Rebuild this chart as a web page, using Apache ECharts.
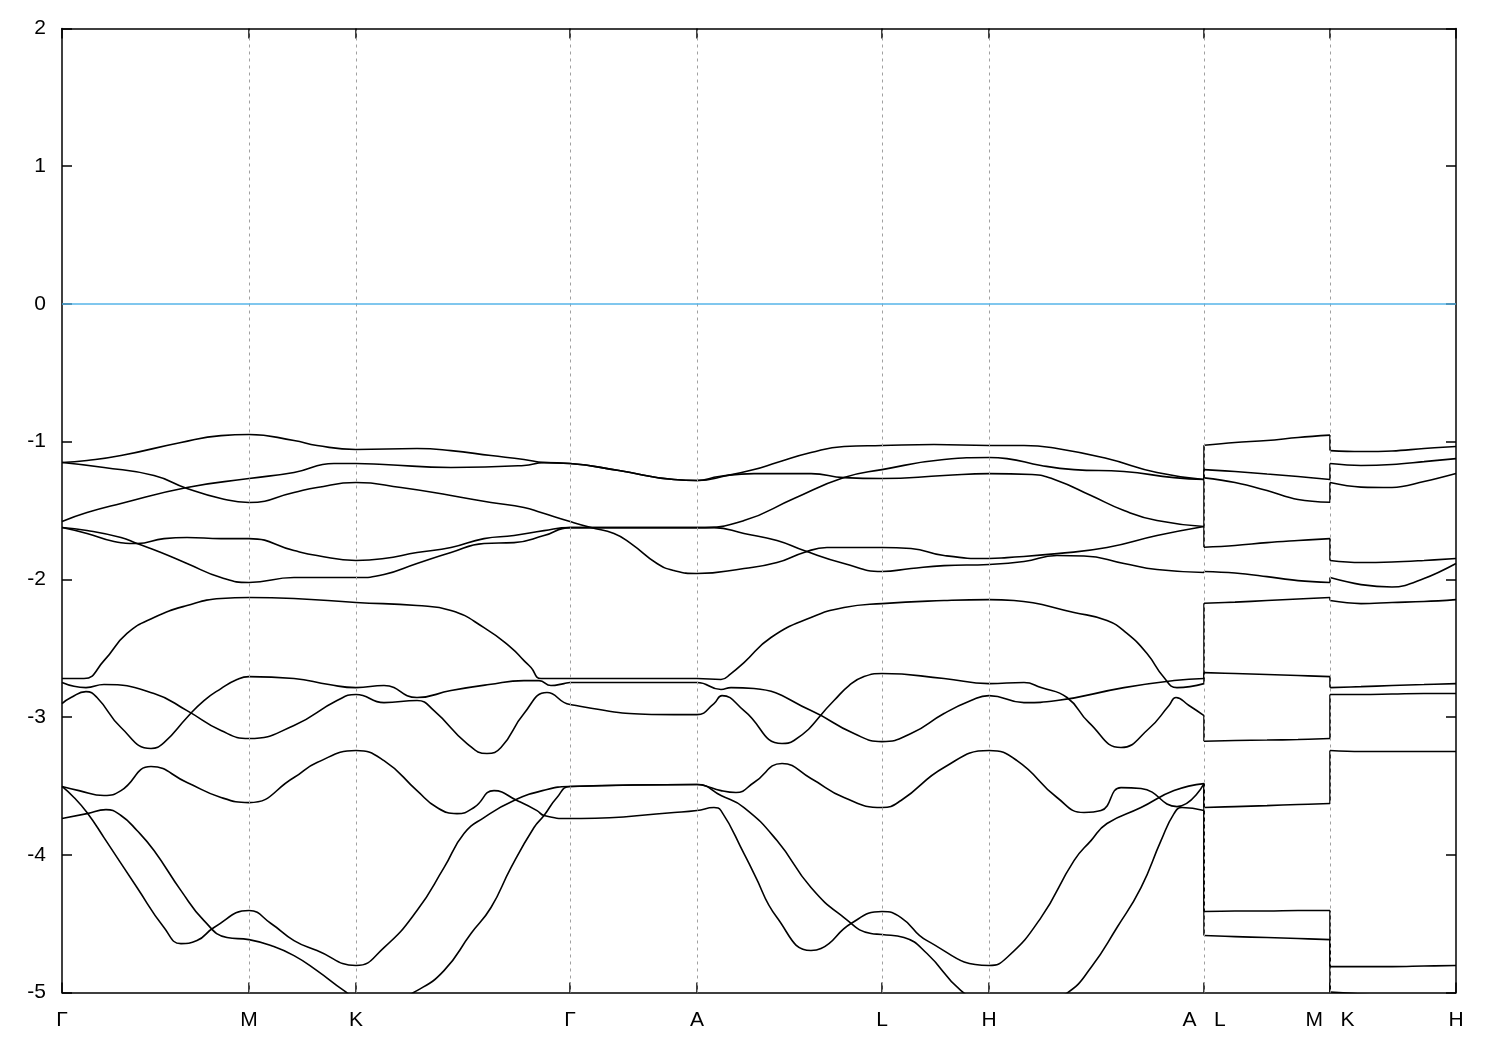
<!DOCTYPE html>
<html><head><meta charset="utf-8">
<script src="https://cdn.jsdelivr.net/npm/echarts@6/dist/echarts.min.js"></script>
<style>html,body{margin:0;padding:0;background:#fff}#c{width:1500px;height:1050px}</style>
</head><body><div id="c"></div>
<script>
// High-symmetry points along the k-path
const kTicks = [0, 1.87, 2.94, 5.08, 6.35, 8.20, 9.27, 11.42, 12.68, 13.94];
const kLabels = ['Γ', 'M', 'K', 'Γ', 'A', 'L', 'H', 'A   L', 'M   K', 'H'];
const yMin = -5, yMax = 2, yStep = 1;
const fermiLevel = 0;

// Bands along Γ-M-K-Γ-A-L-H-A  ([k, E(eV)])
const upper1 = [[0,-1.152],[0.25,-1.137],[0.59,-1.101],[1.19,-1.006],[1.59,-0.956],[1.87,-0.948],[2.32,-0.992],[2.55,-1.028],[2.94,-1.057],[3.55,-1.050],[3.89,-1.065],[4.29,-1.101],[4.62,-1.130],[4.82,-1.152],[5.08,-1.159],[5.57,-1.210],[6.12,-1.275],[6.35,-1.282],[6.65,-1.246],[6.92,-1.203],[7.15,-1.152],[7.49,-1.079],[7.82,-1.035],[8.20,-1.028],[8.72,-1.021],[9.27,-1.028],[9.62,-1.028],[9.95,-1.050],[10.45,-1.123],[10.95,-1.224],[11.42,-1.275]];
const upper2 = [[0,-1.580],[0.25,-1.515],[0.59,-1.449],[1.25,-1.333],[1.87,-1.268],[2.32,-1.224],[2.72,-1.159],[2.94,-1.159],[3.22,-1.166],[3.89,-1.188],[4.62,-1.173],[4.82,-1.152],[5.08,-1.159],[5.57,-1.210],[6.12,-1.275],[6.35,-1.282],[6.57,-1.253],[6.92,-1.232],[7.49,-1.232],[7.82,-1.261],[8.20,-1.268],[8.82,-1.246],[9.27,-1.232],[9.70,-1.239],[9.95,-1.282],[10.29,-1.391],[10.62,-1.500],[10.95,-1.573],[11.42,-1.616]];
const upper3 = [[0,-1.152],[0.42,-1.188],[0.92,-1.246],[1.25,-1.340],[1.59,-1.413],[1.87,-1.442],[2.32,-1.369],[2.55,-1.333],[2.94,-1.297],[3.39,-1.333],[3.89,-1.391],[4.29,-1.442],[4.62,-1.478],[4.79,-1.515],[5.08,-1.580],[5.29,-1.624],[5.52,-1.667],[5.69,-1.740],[5.95,-1.885],[6.12,-1.936],[6.35,-1.958],[6.82,-1.921],[7.15,-1.878],[7.42,-1.805],[7.65,-1.769],[8.20,-1.769],[8.49,-1.776],[8.82,-1.827],[9.27,-1.849],[9.45,-1.842],[9.95,-1.813],[10.45,-1.769],[10.95,-1.682],[11.42,-1.616]];
const upper4 = [[0,-1.624],[0.25,-1.667],[0.52,-1.725],[0.75,-1.740],[1.02,-1.704],[1.25,-1.696],[1.59,-1.704],[1.87,-1.704],[2.32,-1.791],[2.55,-1.827],[2.94,-1.863],[3.22,-1.849],[3.55,-1.805],[3.89,-1.769],[4.22,-1.704],[4.52,-1.682],[4.82,-1.646],[5.08,-1.624],[6.35,-1.624],[6.52,-1.624],[6.82,-1.667],[7.15,-1.718],[7.42,-1.791],[7.82,-1.885],[8.20,-1.943],[8.49,-1.921],[8.82,-1.900],[9.27,-1.892],[9.62,-1.870],[9.95,-1.827],[10.22,-1.830],[10.62,-1.885],[10.95,-1.929],[11.42,-1.950]];
const upper5 = [[0,-1.624],[0.25,-1.645],[0.59,-1.696],[0.75,-1.740],[0.99,-1.805],[1.25,-1.885],[1.59,-1.987],[1.87,-2.023],[2.32,-1.987],[2.94,-1.987],[3.22,-1.965],[3.55,-1.885],[3.89,-1.805],[4.22,-1.740],[4.52,-1.733],[4.82,-1.682],[5.08,-1.624],[6.35,-1.624],[6.82,-1.573],[7.32,-1.413],[7.82,-1.261],[8.20,-1.203],[8.82,-1.130],[9.27,-1.115],[9.45,-1.123],[9.79,-1.173],[10.12,-1.203],[10.62,-1.217],[11.12,-1.261],[11.42,-1.275]];
const middle = [[0,-2.720],[0.22,-2.720],[0.42,-2.590],[0.65,-2.393],[0.92,-2.277],[1.25,-2.190],[1.59,-2.139],[1.87,-2.132],[2.32,-2.139],[2.94,-2.168],[3.55,-2.190],[3.89,-2.226],[4.22,-2.350],[4.49,-2.495],[4.62,-2.590],[4.69,-2.640],[4.79,-2.720],[5.08,-2.720],[6.35,-2.720],[6.59,-2.727],[6.69,-2.684],[6.82,-2.604],[7.09,-2.422],[7.49,-2.277],[7.82,-2.205],[8.20,-2.176],[8.82,-2.154],[9.27,-2.147],[9.52,-2.154],[10.12,-2.241],[10.45,-2.299],[10.65,-2.393],[10.85,-2.539],[11.02,-2.713],[11.15,-2.786],[11.42,-2.757]];
const lowerA = [[0,-2.749],[0.24,-2.786],[0.42,-2.764],[0.92,-2.829],[1.25,-2.953],[1.59,-3.098],[1.87,-3.156],[2.32,-3.061],[2.75,-2.880],[2.94,-2.836],[3.22,-2.895],[3.55,-2.880],[3.72,-2.953],[4.05,-3.192],[4.25,-3.265],[4.39,-3.221],[4.62,-2.974],[4.85,-2.822],[5.08,-2.909],[6.12,-2.982],[6.35,-2.982],[6.52,-2.902],[6.60,-2.844],[6.82,-2.953],[7.20,-3.192],[7.32,-3.170],[7.72,-2.880],[7.87,-2.771],[8.02,-2.706],[8.20,-2.684],[8.82,-2.720],[9.27,-2.757],[9.62,-2.749],[9.79,-2.786],[10.05,-2.858],[10.27,-3.040],[10.59,-3.221],[10.87,-3.083],[11.07,-2.916],[11.14,-2.858],[11.27,-2.916],[11.42,-2.989]];
const lowerB = [[0,-2.902],[0.09,-2.858],[0.24,-2.815],[0.35,-2.858],[0.59,-3.076],[0.89,-3.228],[1.02,-3.185],[1.25,-3.003],[1.42,-2.880],[1.59,-2.793],[1.75,-2.727],[1.87,-2.706],[2.32,-2.720],[2.67,-2.764],[2.94,-2.786],[3.22,-2.771],[3.55,-2.858],[3.89,-2.807],[4.27,-2.764],[4.62,-2.735],[4.77,-2.735],[4.89,-2.771],[5.02,-2.757],[5.08,-2.749],[6.35,-2.749],[6.59,-2.800],[6.69,-2.786],[6.92,-2.793],[7.49,-2.953],[7.92,-3.120],[8.20,-3.178],[8.49,-3.120],[8.82,-2.974],[9.09,-2.880],[9.27,-2.844],[9.62,-2.895],[9.95,-2.880],[10.62,-2.786],[11.12,-2.735],[11.42,-2.720]];
const deep1 = [[0,-3.504],[0.17,-3.534],[0.42,-3.570],[0.59,-3.534],[0.89,-3.359],[1.25,-3.475],[1.59,-3.584],[1.87,-3.621],[2.32,-3.439],[2.55,-3.330],[2.94,-3.243],[3.22,-3.316],[3.55,-3.534],[3.75,-3.657],[3.95,-3.701],[4.12,-3.657],[4.32,-3.534],[4.55,-3.606],[4.75,-3.679],[4.82,-3.715],[5.08,-3.737],[5.19,-3.737],[6.12,-3.693],[6.35,-3.679],[6.52,-3.657],[6.59,-3.679],[6.82,-3.991],[6.92,-4.136],[7.15,-4.456],[7.49,-4.695],[7.59,-4.681],[7.89,-4.499],[8.20,-4.412],[8.39,-4.456],[8.65,-4.623],[9.27,-4.804],[9.45,-4.746],[9.79,-4.456],[10.12,-4.042],[10.29,-3.897],[10.45,-3.773],[10.79,-3.657],[11.12,-3.534],[11.42,-3.483]];
const deep2 = [[0,-3.504],[0.12,-3.584],[0.25,-3.693],[0.42,-3.875],[0.75,-4.238],[1.02,-4.528],[1.19,-4.645],[1.35,-4.623],[1.52,-4.528],[1.87,-4.405],[2.09,-4.499],[2.32,-4.623],[2.55,-4.695],[2.94,-4.804],[3.22,-4.674],[3.55,-4.405],[3.82,-4.093],[4.02,-3.846],[4.22,-3.730],[4.52,-3.606],[4.85,-3.526],[5.08,-3.504],[6.35,-3.490],[6.42,-3.497],[6.59,-3.534],[6.74,-3.548],[6.92,-3.475],[7.20,-3.337],[7.49,-3.446],[7.82,-3.584],[8.20,-3.657],[8.39,-3.606],[8.82,-3.366],[9.27,-3.243],[9.55,-3.316],[9.95,-3.584],[10.22,-3.693],[10.39,-3.679],[10.59,-3.512],[10.79,-3.519],[11.15,-3.650],[11.42,-3.483]];
const deep3 = [[0,-3.737],[0.25,-3.701],[0.44,-3.672],[0.59,-3.715],[0.75,-3.824],[0.92,-3.969],[1.19,-4.260],[1.42,-4.478],[1.65,-4.601],[1.87,-4.616],[2.09,-4.659],[2.32,-4.732],[2.55,-4.841],[2.82,-4.986],[2.94,-5.03],[3.37,-5.03],[3.55,-4.986],[3.82,-4.841],[4.09,-4.572],[4.29,-4.383],[4.49,-4.093],[4.72,-3.802],[4.82,-3.715],[4.95,-3.584],[5.08,-3.504],[6.35,-3.490],[6.59,-3.570],[6.82,-3.657],[7.15,-3.897],[7.49,-4.238],[7.82,-4.456],[8.09,-4.572],[8.20,-4.579],[8.42,-4.601],[8.65,-4.717],[8.99,-4.986],[9.27,-5.09],[9.77,-5.08],[10.05,-5.004],[10.29,-4.819],[10.55,-4.528],[10.79,-4.238],[10.99,-3.897],[11.12,-3.701],[11.20,-3.657],[11.42,-3.679]];
const mainBands = [upper1, upper2, upper3, upper4, upper5, middle, lowerA, lowerB, deep1, deep2, deep3];

// Band energies (sorted, 11 bands) at the end point A of the first path
const eAtA = [-1.275, -1.275, -1.616, -1.616, -1.950, -2.720, -2.757, -2.989, -3.483, -3.483, -3.679];
// L-M segment
const kLM = [11.42, 11.73, 12.05, 12.36, 12.68];
const eLM = [
  [-1.026, -1.006, -0.992, -0.970, -0.953],
  [-1.203, -1.217, -1.235, -1.253, -1.275],
  [-1.263, -1.297, -1.355, -1.420, -1.440],
  [-1.767, -1.754, -1.733, -1.718, -1.704],
  [-1.943, -1.954, -1.980, -2.009, -2.023],
  [-2.173, -2.165, -2.154, -2.143, -2.132],
  [-2.677, -2.684, -2.691, -2.698, -2.706],
  [-3.176, -3.170, -3.167, -3.163, -3.156],
  [-3.657, -3.650, -3.643, -3.635, -3.628],
  [-4.412, -4.408, -4.408, -4.405, -4.405],
  [-4.586, -4.594, -4.601, -4.608, -4.616]
];
// K-H segment
const kKH = [12.68, 12.99, 13.30, 13.62, 13.94];
const eKH = [
  [-1.065, -1.072, -1.068, -1.050, -1.035],
  [-1.159, -1.173, -1.166, -1.145, -1.123],
  [-1.297, -1.330, -1.333, -1.290, -1.232],
  [-1.863, -1.878, -1.874, -1.863, -1.849],
  [-1.987, -2.038, -2.056, -1.994, -1.885],
  [-2.154, -2.176, -2.168, -2.161, -2.147],
  [-2.786, -2.779, -2.771, -2.764, -2.757],
  [-2.836, -2.836, -2.833, -2.829, -2.829],
  [-3.243, -3.250, -3.250, -3.250, -3.250],
  [-4.812, -4.812, -4.812, -4.808, -4.804],
  [-4.996, -5.011, -5.033, -5.055, -5.080]
];

const FONT = 'Liberation Sans, Arial, sans-serif';
const lineBase = { type: 'line', showSymbol: false, symbol: 'none', silent: true, z: 3,
  lineStyle: { color: '#000', width: 1.6 } };

const series = [];
// helper series carrying the grid lines and Fermi level
series.push({
  type: 'line', data: [], z: 1, silent: true,
  markLine: {
    silent: true, symbol: ['none', 'none'], label: { show: false },
    data: kTicks.slice(1, -1).map(k => ({ xAxis: k, lineStyle: { color: '#a0a0a0', width: 1, type: [3, 4] } }))
      .concat([{ yAxis: fermiLevel, lineStyle: { color: '#56b4e9', width: 1.5, type: 'solid' } }])
  }
});
mainBands.forEach(b => series.push(Object.assign({}, lineBase, { data: b, smooth: 0.5 })));
eLM.forEach(row => series.push(Object.assign({}, lineBase, { data: kLM.map((k, i) => [k, row[i]]), smooth: 0.4 })));
eKH.forEach(row => series.push(Object.assign({}, lineBase, { data: kKH.map((k, i) => [k, row[i]]), smooth: 0.4 })));
// vertical connections at the path breaks A|L and M|K
eAtA.forEach((e, n) => {
  series.push(Object.assign({}, lineBase, { data: [[kLM[0], e], [kLM[0], eLM[n][0]]] }));
  series.push(Object.assign({}, lineBase, { data: [[kKH[0], eLM[n][4]], [kKH[0], eKH[n][0]]] }));
});

const axisLineStyle = { color: '#000', width: 1.5 };
const labelFor = v => { const i = kTicks.findIndex(t => Math.abs(t - v) < 1e-6); return i >= 0 ? kLabels[i] : ''; };

const chart = echarts.init(document.getElementById('c'), null, { renderer: 'canvas' });
chart.setOption({
  animation: false,
  backgroundColor: '#fff',
  grid: { left: 62, top: 28.5, width: 1394, height: 964, containLabel: false },
  xAxis: [{
    type: 'value', min: kTicks[0], max: kTicks[kTicks.length - 1], position: 'bottom',
    axisLine: { show: true, onZero: false, lineStyle: axisLineStyle },
    axisTick: { show: true, inside: true, length: 10, customValues: kTicks, lineStyle: axisLineStyle },
    axisLabel: { show: true, customValues: kTicks, formatter: labelFor, color: '#000', fontSize: 21, fontFamily: FONT, margin: 17 },
    splitLine: { show: false }
  }, {
    type: 'value', min: kTicks[0], max: kTicks[kTicks.length - 1], position: 'top',
    axisLine: { show: true, onZero: false, lineStyle: axisLineStyle },
    axisTick: { show: true, inside: true, length: 10, customValues: kTicks, lineStyle: axisLineStyle },
    axisLabel: { show: false }, splitLine: { show: false }
  }],
  yAxis: [{
    type: 'value', min: yMin, max: yMax, interval: yStep, position: 'left',
    axisLine: { show: true, onZero: false, lineStyle: axisLineStyle },
    axisTick: { show: true, inside: true, length: 10, lineStyle: axisLineStyle },
    axisLabel: { color: '#000', fontSize: 21, fontFamily: FONT, margin: 16 },
    splitLine: { show: false }
  }, {
    type: 'value', min: yMin, max: yMax, interval: yStep, position: 'right',
    axisLine: { show: true, onZero: false, lineStyle: axisLineStyle },
    axisTick: { show: true, inside: true, length: 10, lineStyle: axisLineStyle },
    axisLabel: { show: false }, splitLine: { show: false }
  }],
  series: series
});
</script></body></html>
